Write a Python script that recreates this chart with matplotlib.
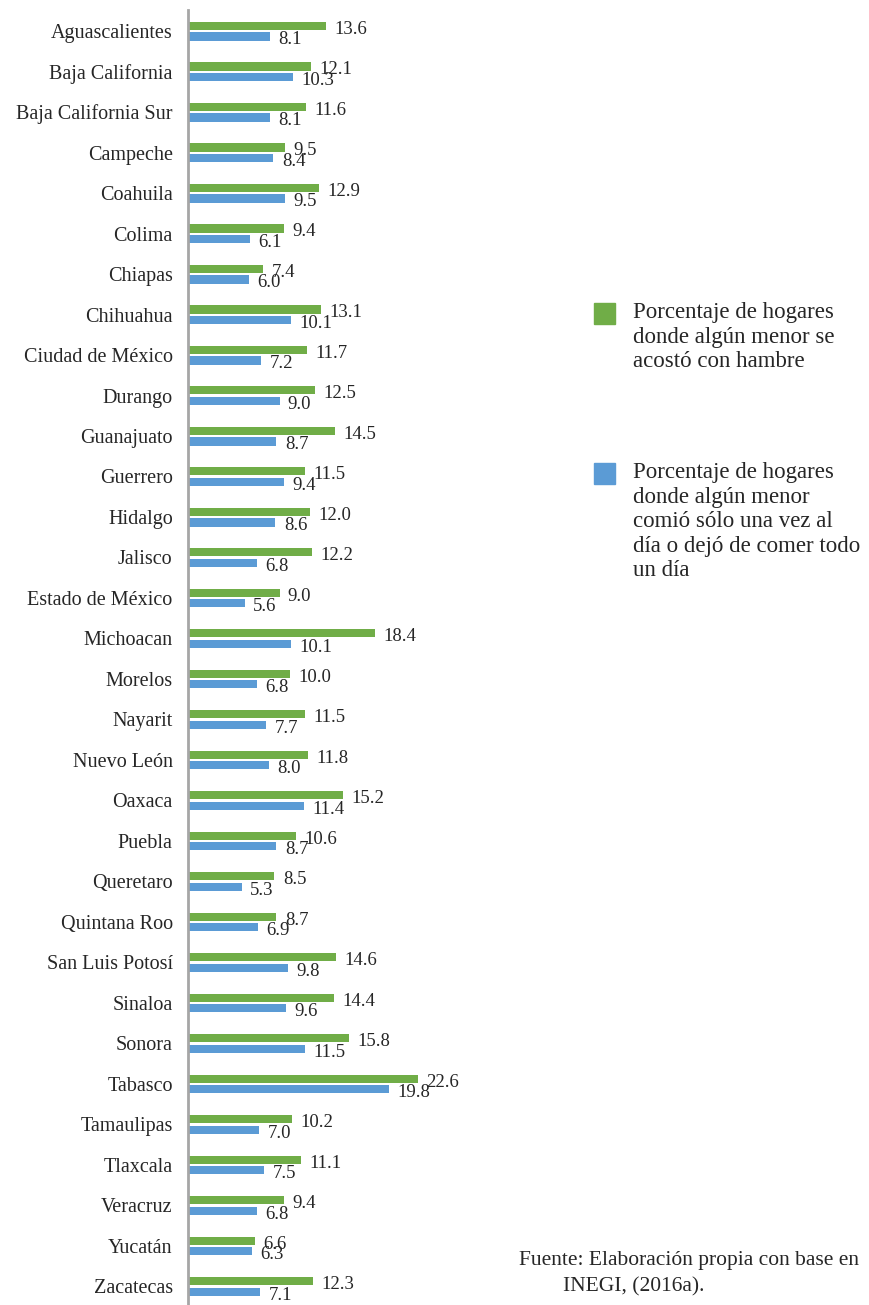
import numpy as np
import matplotlib
matplotlib.use("Agg")
import matplotlib.pyplot as plt

plt.rcParams["font.family"] = ["Liberation Serif", "DejaVu Serif"]

# Datos por entidad federativa
estados = [
    "Aguascalientes", "Baja California", "Baja California Sur", "Campeche",
    "Coahuila", "Colima", "Chiapas", "Chihuahua", "Ciudad de México",
    "Durango", "Guanajuato", "Guerrero", "Hidalgo", "Jalisco",
    "Estado de México", "Michoacan", "Morelos", "Nayarit", "Nuevo León",
    "Oaxaca", "Puebla", "Queretaro", "Quintana Roo", "San Luis Potosí",
    "Sinaloa", "Sonora", "Tabasco", "Tamaulipas", "Tlaxcala", "Veracruz",
    "Yucatán", "Zacatecas",
]
hambre = [13.6, 12.1, 11.6, 9.5, 12.9, 9.4, 7.4, 13.1, 11.7, 12.5, 14.5,
          11.5, 12.0, 12.2, 9.0, 18.4, 10.0, 11.5, 11.8, 15.2, 10.6, 8.5,
          8.7, 14.6, 14.4, 15.8, 22.6, 10.2, 11.1, 9.4, 6.6, 12.3]
una_vez = [8.1, 10.3, 8.1, 8.4, 9.5, 6.1, 6.0, 10.1, 7.2, 9.0, 8.7, 9.4,
           8.6, 6.8, 5.6, 10.1, 6.8, 7.7, 8.0, 11.4, 8.7, 5.3, 6.9, 9.8,
           9.6, 11.5, 19.8, 7.0, 7.5, 6.8, 6.3, 7.1]

verde = "#70AD47"
azul = "#5B9BD5"
texto = "#262626"

W, H = 869, 1305
fig = plt.figure(figsize=(W / 100, H / 100), dpi=100)
# ejes desde x=188 px hasta x=500 px, de y=10 px hasta el borde inferior
ax = fig.add_axes([188 / W, 0, 312 / W, (H - 10) / H])

y = np.arange(len(estados))
alto = 0.2
b1 = ax.barh(y - 0.125, hambre, height=alto, color=verde)
b2 = ax.barh(y + 0.135, una_vez, height=alto, color=azul)

for barras, valores in [(b1, hambre), (b2, una_vez)]:
    for rect, v in zip(barras, valores):
        ax.annotate(f"{v:.1f}",
                    (rect.get_width(), rect.get_y() + rect.get_height() / 2),
                    xytext=(6, -2.5), textcoords="offset points",
                    ha="left", va="center", fontsize=13.5, color=texto)

ax.set_xlim(0, 312 / 10.17)
ax.set_ylim(31.46, -0.52)
ax.set_yticks(y)
ax.set_yticklabels(estados, fontsize=14.5, color=texto)
ax.tick_params(axis="y", length=0, pad=11)
ax.set_xticks([])
for s in ["top", "right", "bottom"]:
    ax.spines[s].set_visible(False)
ax.spines["left"].set_color("#A6A6A6")
ax.spines["left"].set_linewidth(2)
ax.patch.set_alpha(0)

# Leyenda manual
fig.patches.append(plt.Rectangle((594 / W, 1 - 324 / H), 21 / W, 21 / H,
                                 transform=fig.transFigure, color=verde))
fig.patches.append(plt.Rectangle((594 / W, 1 - 484 / H), 21 / W, 21 / H,
                                 transform=fig.transFigure, color=azul))
fig.text(633 / W, 1 - 302 / H,
         "Porcentaje de hogares\ndonde algún menor se\nacostó con hambre",
         ha="left", va="top", fontsize=16.5, linespacing=1.22, color=texto)
fig.text(633 / W, 1 - 462 / H,
         "Porcentaje de hogares\ndonde algún menor\ncomió sólo una vez al\n"
         "día o dejó de comer todo\nun día",
         ha="left", va="top", fontsize=16.5, linespacing=1.22, color=texto)

fig.text(519 / W, 1 - 1251 / H, "Fuente: Elaboración propia con base en",
         ha="left", va="top", fontsize=15.5, color=texto)
fig.text(563 / W, 1 - 1277 / H, "INEGI, (2016a).",
         ha="left", va="top", fontsize=15.5, color=texto)

fig.savefig("out.png", dpi=100)
